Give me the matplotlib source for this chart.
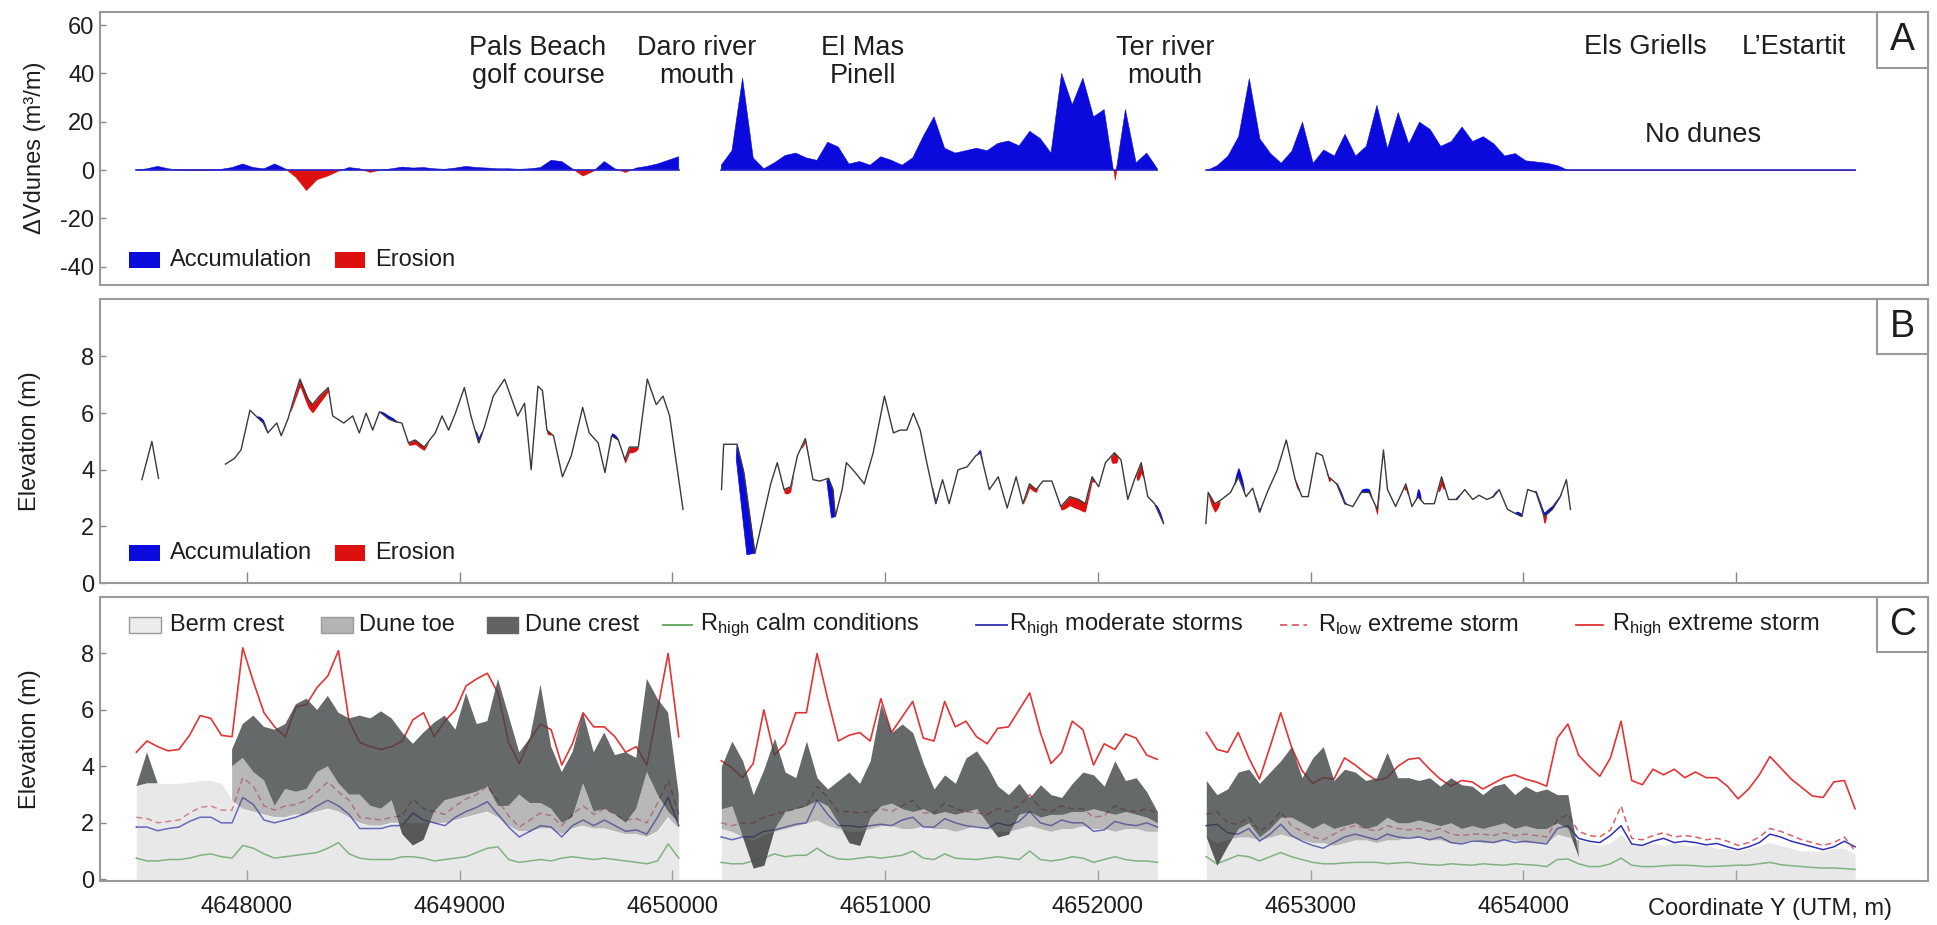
import numpy as np
import matplotlib
matplotlib.use('Agg')
import matplotlib.pyplot as plt
from matplotlib.patches import Rectangle
from matplotlib.lines import Line2D

plt.rcParams['font.family'] = ['Liberation Sans', 'DejaVu Sans']
plt.rcParams['mathtext.fontset'] = 'custom'
plt.rcParams['mathtext.rm'] = 'Liberation Sans'
plt.rcParams['mathtext.it'] = 'Liberation Sans:italic'
plt.rcParams['axes.unicode_minus'] = False

nan = np.nan
# ---------------- coordinate stations (UTM Y, m) ----------------
seg1_x = np.arange(4647480, 4650031, 50)
seg2_x = np.arange(4650230, 4652281, 50)
seg3_x = np.arange(4652510, 4655561, 50)

# ---------------- Panel A: dune volume change (m3/m) ----------------
dv1 = [0, 0.5, 1.5, 0.5, 0, 0, 0, 0, 0.3, 1,
       2.5, 1, 0.5, 2.5, 0.5, -3, -8.5, -4, -2.5, -0.5,
       1, 0.5, -1, 0, 0.5, 1.2, 0.8, 1, 0.5, 0.3,
       0.8, 1.5, 1, 0.8, 0.5, 0.5, 0.3, 0.5, 1, 4,
       3.5, 0.5, -2.5, -0.5, 3.5, 0.5, -1, 0.8, 1.5, 2.5,
       4, 5.5]
dv2 = [2, 8, 38, 5, 0.5, 3, 6, 7, 5, 4,
       11.5, 9.5, 2.5, 3.5, 2, 5.5, 4, 2, 5, 14,
       22, 9, 7, 8, 9, 8, 11, 12, 10, 16,
       13, 7, 40, 27, 38, 22, 25, -4, 25, 3,
       7, 0.5]
dv3 = [0, 2, 6, 14, 38, 13, 7, 3, 8, 20,
       3, 8.5, 6, 15, 6, 10, 27, 9, 24, 11,
       20, 17, 10, 12, 18, 12, 14, 11, 6, 7,
       4, 3.5, 3, 2, 0, 0, 0, 0, 0, 0,
       0, 0, 0, 0, 0, 0, 0, 0, 0, 0,
       0, 0, 0, 0, 0, 0, 0, 0, 0, 0,
       0, 0]

# ---------------- Panel B: dune crest elevation profile (m) ----------------
b0_x = [4647506, 4647553, 4647584]
b0_z = [3.65, 5.0, 3.7]
b1_x = [4647899, 4647941, 4647972, 4648014, 4648077, 4648098, 4648140, 4648161, 4648193, 4648224,
        4648249, 4648287, 4648308, 4648340, 4648382, 4648403, 4648455, 4648497, 4648528, 4648560,
        4648591, 4648623, 4648665, 4648696, 4648728, 4648759, 4648791, 4648833, 4648885, 4648917,
        4648948, 4648980, 4649022, 4649053, 4649089, 4649116, 4649158, 4649211, 4649273, 4649305,
        4649336, 4649368, 4649389, 4649410, 4649441, 4649483, 4649525, 4649578, 4649609, 4649651,
        4649683, 4649714, 4649746, 4649777, 4649798, 4649840, 4649882, 4649924, 4649956, 4649987,
        4650008, 4650050]
b1_z = [4.2, 4.4, 4.7, 6.1, 5.65, 5.3, 5.65, 5.2, 5.8, 6.6,
        7.2, 6.5, 6.3, 6.6, 6.9, 5.9, 5.65, 5.9, 5.3, 6.0,
        5.4, 6.05, 5.8, 5.7, 5.65, 4.95, 5.05, 4.8, 5.3, 5.9,
        5.4, 6.0, 6.9, 5.9, 4.95, 5.5, 6.6, 7.2, 5.9, 6.35,
        4.0, 6.95, 6.8, 5.4, 5.2, 3.75, 4.5, 6.2, 5.3, 4.95,
        3.9, 5.2, 5.05, 4.35, 4.8, 4.8, 7.2, 6.3, 6.6, 5.9,
        4.8, 2.6]
b2_x = [4650231, 4650241, 4650304, 4650336, 4650388, 4650420, 4650462, 4650493, 4650525, 4650556,
        4650588, 4650625, 4650661, 4650693, 4650734, 4650755, 4650766, 4650798, 4650818, 4650860,
        4650902, 4650944, 4650997, 4651039, 4651070, 4651102, 4651133, 4651165, 4651196, 4651238,
        4651270, 4651301, 4651343, 4651385, 4651427, 4651448, 4651490, 4651532, 4651574, 4651616,
        4651648, 4651679, 4651710, 4651742, 4651784, 4651826, 4651868, 4651910, 4651941, 4651973,
        4652004, 4652036, 4652078, 4652109, 4652141, 4652172, 4652204, 4652235, 4652267, 4652309]
b2_z = [3.3, 4.9, 4.9, 3.9, 1.05, 2.1, 3.5, 4.25, 3.3, 3.4,
        4.5, 5.1, 3.65, 3.6, 3.7, 3.3, 2.35, 3.3, 4.25, 3.9,
        3.5, 4.6, 6.6, 5.3, 5.4, 5.4, 6.0, 5.4, 4.25, 2.8,
        3.65, 2.8, 4.0, 4.1, 4.5, 4.6, 3.3, 3.75, 2.65, 3.75,
        2.8, 3.5, 3.3, 3.6, 3.6, 2.7, 3.05, 2.95, 2.8, 3.75,
        3.4, 4.25, 4.6, 4.35, 2.95, 3.65, 4.25, 3.05, 2.8, 2.1]
b3_x = [4652508, 4652519, 4652550, 4652582, 4652624, 4652661, 4652697, 4652728, 4652760, 4652802,
        4652844, 4652886, 4652928, 4652960, 4652989, 4653027, 4653056, 4653085, 4653123, 4653161,
        4653199, 4653238, 4653276, 4653314, 4653343, 4653362, 4653400, 4653448, 4653477, 4653505,
        4653534, 4653582, 4653616, 4653649, 4653687, 4653725, 4653763, 4653792, 4653830, 4653859,
        4653887, 4653926, 4653964, 4653993, 4654021, 4654060, 4654098, 4654136, 4654174, 4654203,
        4654222]
b3_z = [2.1, 3.2, 2.8, 2.95, 3.2, 3.75, 3.05, 3.35, 2.5, 3.3,
        4.0, 5.05, 3.65, 3.05, 3.05, 4.6, 4.5, 3.75, 3.5, 2.8,
        2.7, 3.2, 3.2, 2.6, 4.7, 3.3, 2.7, 3.5, 2.7, 3.05,
        2.8, 2.8, 3.75, 2.95, 2.95, 3.3, 2.95, 3.1, 2.95, 3.05,
        3.3, 2.6, 2.45, 2.35, 3.3, 3.2, 2.35, 2.6, 3.05, 3.65,
        2.6]
# earlier (pre-change) profile where the dune front shifted (two large accumulation wedges)
old_front1_x = [4650304, 4650336, 4650388, 4650350, 4650300]
old_front1_z = [4.9, 3.9, 1.05, 1.0, 4.4]
old_front2_x = [4650734, 4650755, 4650766, 4650748, 4650726]
old_front2_z = [3.7, 3.3, 2.35, 2.3, 3.6]
# (start, end, thickness m) of accumulation / erosion along the profile
acc_zones = [(4648046, 4648098, 0.12), (4648623, 4648707, 0.12), (4649074, 4649106, 0.2),
             (4649704, 4649746, 0.12),
             (4651220, 4651250, 0.12), (4651430, 4651460, 0.12), (4652270, 4652309, 0.15),
             (4652640, 4652690, 0.35), (4652740, 4652770, 0.1), (4653120, 4653170, 0.12),
             (4653230, 4653290, 0.15), (4653495, 4653520, 0.3), (4653680, 4653700, 0.1),
             (4653850, 4653880, 0.1), (4653960, 4654000, 0.12), (4654050, 4654180, 0.15)]
ero_zones = [(4648203, 4648392, 0.3), (4648749, 4648854, 0.15), (4649389, 4649431, 0.12),
             (4649767, 4649840, 0.2), (4650520, 4650570, 0.2), (4650605, 4650645, 0.12),
             (4651648, 4651720, 0.15), (4651820, 4651985, 0.35), (4652060, 4652095, 0.35),
             (4652180, 4652215, 0.4), (4652519, 4652575, 0.3), (4652925, 4652945, 0.15),
             (4653075, 4653095, 0.15), (4653300, 4653330, 0.2), (4653440, 4653460, 0.2),
             (4653600, 4653630, 0.3), (4654090, 4654110, 0.25)]

# ---------------- Panel C: morphology and run-up (m) ----------------
berm1 = [3.3, 3.4, 3.4, 3.4, 3.4, 3.45, 3.5, 3.5, 3.4, 2.8,
         2.5, 2.4, 2.3, 2.2, 2.2, 2.3, 2.3, 2.4, 2.5, 2.4,
         2.2, 2.0, 1.9, 1.9, 2.0, 2.0, 2.0, 2.0, 2.0, 2.0,
         2.1, 2.2, 2.3, 2.4, 2.2, 1.9, 1.7, 1.7, 1.8, 1.8,
         1.6, 1.8, 1.9, 1.8, 1.8, 1.7, 1.6, 1.6, 1.5, 1.7,
         2.2, 1.8]
toe1 = [3.3, 3.4, 3.4, nan, nan, nan, nan, nan, nan, 4.0,
        4.3, 3.8, 3.5, 2.6, 3.2, 3.1, 3.2, 3.8, 4.0, 3.4,
        3.0, 3.0, 2.6, 2.5, 2.8, 1.6, 1.2, 1.4, 2.4, 2.8,
        2.9, 3.0, 3.1, 3.3, 2.6, 2.6, 3.0, 2.7, 2.7, 2.5,
        2.0, 2.2, 3.4, 2.4, 2.5, 2.3, 2.0, 2.5, 3.8, 3.0,
        2.4, 2.0]
crest1 = [3.3, 4.5, 3.4, nan, nan, nan, nan, nan, nan, 4.6,
          5.5, 5.8, 5.4, 5.3, 5.5, 6.2, 6.4, 6.0, 6.5, 5.9,
          5.7, 5.8, 5.7, 5.95, 5.7, 5.2, 4.8, 5.2, 5.55, 5.8,
          5.3, 6.6, 5.5, 5.6, 7.1, 5.8, 4.5, 5.0, 6.9, 4.7,
          3.8, 4.5, 5.9, 4.5, 5.2, 4.4, 4.5, 4.3, 7.1, 6.4,
          5.9, 3.0]
rcalm1 = [0.75, 0.65, 0.65, 0.7, 0.7, 0.75, 0.85, 0.9, 0.8, 0.75,
          1.2, 1.1, 0.9, 0.75, 0.8, 0.85, 0.9, 0.95, 1.1, 1.3,
          0.9, 0.75, 0.7, 0.7, 0.7, 0.8, 0.8, 0.75, 0.65, 0.7,
          0.75, 0.8, 0.95, 1.1, 1.15, 0.7, 0.6, 0.65, 0.7, 0.65,
          0.75, 0.8, 0.75, 0.7, 0.75, 0.7, 0.65, 0.6, 0.55, 0.65,
          1.25, 0.75]
rmod1 = [1.85, 1.85, 1.72, 1.8, 1.85, 2.05, 2.2, 2.2, 2.0, 2.0,
         2.9, 2.65, 2.1, 2.0, 2.1, 2.2, 2.35, 2.6, 2.8, 2.6,
         2.3, 1.8, 1.8, 1.8, 1.9, 1.9, 2.35, 2.1, 2.0, 1.9,
         2.2, 2.4, 2.55, 2.75, 2.3, 1.85, 1.5, 1.7, 1.9, 1.85,
         1.5, 1.9, 2.1, 1.9, 2.1, 1.9, 1.7, 1.75, 1.6, 2.2,
         2.9, 1.9]
rlow1 = [2.2, 2.15, 2.0, 2.05, 2.1, 2.35, 2.55, 2.6, 2.45, 2.45,
         3.6, 3.3, 2.6, 2.45, 2.6, 2.65, 2.8, 3.1, 3.45, 3.1,
         2.8, 2.2, 2.15, 2.1, 2.2, 2.25, 2.85, 2.5, 2.4, 2.3,
         2.6, 2.85, 3.0, 3.3, 2.8, 2.25, 1.85, 2.1, 2.35, 2.25,
         1.9, 2.3, 2.6, 2.3, 2.5, 2.3, 2.1, 2.15, 2.0, 2.7,
         3.5, 2.3]
rhigh1 = [4.5, 4.9, 4.7, 4.55, 4.6, 5.1, 5.8, 5.7, 5.1, 5.05,
          8.2, 7.0, 5.9, 5.4, 5.05, 6.1, 6.2, 6.8, 7.2, 8.1,
          5.6, 4.85, 4.7, 4.6, 4.7, 4.9, 5.65, 5.9, 5.05, 5.6,
          6.0, 6.85, 7.1, 7.3, 6.6, 4.85, 4.1, 4.95, 5.5, 5.3,
          4.05, 4.8, 5.9, 5.4, 5.4, 5.05, 4.5, 4.7, 4.05, 6.0,
          8.0, 5.05]

berm2 = [1.8, 1.7, 1.5, 1.4, 1.6, 1.7, 1.8, 1.9, 2.0, 2.1,
         1.9, 1.8, 1.7, 1.7, 1.8, 1.9, 1.9, 1.8, 1.8, 1.9,
         1.8, 1.8, 1.7, 1.8, 1.9, 1.8, 1.7, 1.7, 1.8, 1.9,
         1.8, 1.7, 1.8, 1.8, 1.9, 1.8, 1.8, 1.7, 1.8, 1.8,
         1.7, 1.7]
toe2 = [2.5, 2.6, 1.5, 0.4, 0.5, 1.8, 2.4, 2.5, 2.6, 2.8,
        2.6, 2.0, 1.3, 1.2, 2.2, 2.6, 2.7, 2.5, 2.4, 2.5,
        2.3, 2.4, 2.3, 2.4, 2.5, 2.0, 1.5, 1.6, 2.3, 2.4,
        2.2, 2.3, 2.3, 2.4, 2.4, 2.5, 2.4, 2.3, 2.4, 2.3,
        2.2, 2.0]
crest2 = [4.0, 4.9, 4.2, 3.0, 3.9, 5.0, 3.8, 3.6, 4.9, 3.6,
          3.2, 3.5, 3.8, 3.4, 4.2, 6.2, 5.2, 5.5, 5.2, 4.1,
          3.2, 3.7, 3.4, 4.3, 4.55, 4.0, 3.3, 3.0, 3.4, 2.9,
          3.35, 3.0, 2.9, 3.4, 3.8, 3.7, 3.3, 4.2, 3.5, 3.6,
          3.1, 2.4]
rcalm2 = [0.6, 0.55, 0.55, 0.65, 0.75, 0.9, 0.8, 0.85, 0.85, 1.1,
          0.85, 0.72, 0.7, 0.75, 0.8, 0.75, 0.8, 0.85, 1.0, 0.75,
          0.7, 0.9, 0.75, 0.72, 0.7, 0.75, 0.8, 0.75, 0.7, 1.0,
          0.7, 0.65, 0.7, 0.8, 0.75, 0.6, 0.7, 0.8, 0.7, 0.65,
          0.65, 0.6]
rmod2 = [1.5, 1.4, 1.5, 1.5, 1.7, 1.75, 1.85, 1.95, 2.0, 2.8,
         2.3, 1.9, 1.9, 1.85, 1.9, 1.95, 1.9, 2.1, 2.2, 1.85,
         1.85, 2.15, 2.0, 1.9, 1.85, 1.8, 2.0, 1.9, 2.05, 2.4,
         2.0, 1.9, 2.1, 2.0, 2.0, 1.7, 1.75, 2.05, 1.95, 1.9,
         2.0, 1.85]
rlow2 = [2.0, 1.9, 2.0, 2.0, 2.2, 2.3, 2.4, 2.5, 2.6, 3.3,
         2.9, 2.4, 2.4, 2.35, 2.4, 2.5, 2.4, 2.6, 2.8, 2.35,
         2.35, 2.7, 2.5, 2.4, 2.35, 2.3, 2.5, 2.4, 2.6, 3.0,
         2.5, 2.4, 2.6, 2.5, 2.5, 2.2, 2.25, 2.6, 2.45, 2.4,
         2.5, 2.35]
rhigh2 = [4.2, 3.95, 3.6, 4.1, 6.0, 4.4, 4.8, 5.9, 5.9, 8.0,
          6.4, 4.9, 5.1, 5.2, 4.9, 6.4, 5.2, 5.75, 6.3, 5.0,
          4.9, 6.3, 5.4, 5.6, 5.05, 4.8, 5.35, 5.4, 6.0, 6.6,
          5.2, 4.1, 4.5, 5.6, 5.3, 4.05, 4.8, 4.6, 5.15, 5.0,
          4.4, 4.25]

berm3 = [1.5, 1.3, 1.4, 1.5, 1.5, 1.4, 1.5, 1.6, 1.5, 1.4,
         1.3, 1.3, 1.2, 1.3, 1.4, 1.4, 1.3, 1.4, 1.4, 1.5,
         1.5, 1.4, 1.4, 1.3, 1.3, 1.4, 1.3, 1.3, 1.4, 1.4,
         1.3, 1.3, 1.3, 1.6, 1.5, 1.4, 1.3, 1.2, 1.3, 1.6,
         1.2, 1.2, 1.3, 1.2, 1.3, 1.2, 1.2, 1.2, 1.1, 1.1,
         1.0, 1.1, 1.2, 1.3, 1.2, 1.1, 1.0, 1.0, 1.0, 1.1,
         1.1, 0.9]
toe3 = [1.5, 0.5, 1.2, 1.8, 2.0, 1.5, 1.8, 2.2, 2.2, 2.0,
        1.8, 2.0, 1.8, 1.9, 2.0, 1.8, 1.9, 2.2, 2.0, 2.0,
        2.1, 2.0, 1.9, 2.0, 1.8, 1.9, 1.8, 1.9, 2.0, 1.8,
        1.9, 1.8, 1.8, 2.0, 1.8, 0.8, nan, nan, nan, nan,
        nan, nan, nan, nan, nan, nan, nan, nan, nan, nan,
        nan, nan, nan, nan, nan, nan, nan, nan, nan, nan,
        nan, nan]
crest3 = [3.5, 3.0, 3.2, 3.8, 3.9, 3.4, 3.8, 4.2, 4.7, 3.6,
          4.3, 4.7, 3.5, 3.9, 3.8, 3.5, 3.6, 4.5, 3.6, 3.6,
          3.5, 3.6, 3.3, 3.6, 3.35, 3.3, 3.0, 3.3, 3.4, 3.0,
          3.3, 3.1, 3.2, 3.0, 3.0, 0.8, nan, nan, nan, nan,
          nan, nan, nan, nan, nan, nan, nan, nan, nan, nan,
          nan, nan, nan, nan, nan, nan, nan, nan, nan, nan,
          nan, nan]
rcalm3 = [0.8, 0.55, 0.7, 0.85, 0.8, 0.65, 0.8, 0.95, 0.8, 0.7,
          0.6, 0.55, 0.55, 0.58, 0.6, 0.6, 0.6, 0.55, 0.58, 0.6,
          0.55, 0.52, 0.5, 0.55, 0.52, 0.5, 0.55, 0.52, 0.5, 0.55,
          0.52, 0.5, 0.45, 0.7, 0.72, 0.55, 0.45, 0.45, 0.55, 0.75,
          0.5, 0.45, 0.45, 0.48, 0.5, 0.5, 0.48, 0.45, 0.46, 0.48,
          0.5, 0.5, 0.55, 0.6, 0.52, 0.48, 0.45, 0.42, 0.4, 0.4,
          0.38, 0.35]
rmod3 = [1.9, 1.95, 1.65, 1.6, 1.8, 1.35, 1.6, 1.95, 1.55, 1.35,
         1.2, 1.1, 1.3, 1.5, 1.6, 1.5, 1.4, 1.6, 1.5, 1.45,
         1.5, 1.4, 1.5, 1.3, 1.25, 1.35, 1.35, 1.3, 1.4, 1.3,
         1.35, 1.3, 1.25, 1.8, 1.9, 1.45, 1.35, 1.3, 1.55, 1.9,
         1.25, 1.2, 1.35, 1.45, 1.3, 1.35, 1.3, 1.22, 1.27, 1.15,
         1.05, 1.15, 1.3, 1.6, 1.5, 1.35, 1.25, 1.15, 1.05, 1.15,
         1.35, 1.15]
rlow3 = [2.3, 2.4, 2.0, 1.95, 2.2, 1.7, 1.95, 2.4, 1.9, 1.7,
         1.5, 1.4, 1.6, 1.8, 1.9, 1.8, 1.7, 1.9, 1.8, 1.75,
         1.8, 1.7, 1.8, 1.6, 1.55, 1.6, 1.6, 1.55, 1.65, 1.55,
         1.6, 1.55, 1.5, 2.1, 2.3, 1.7, 1.55, 1.5, 1.75, 2.6,
         1.45, 1.4, 1.55, 1.65, 1.5, 1.55, 1.5, 1.4, 1.45, 1.35,
         1.2, 1.3, 1.5, 1.8, 1.7, 1.55, 1.4, 1.3, 1.2, 1.3,
         1.5, 1.0]
rhigh3 = [5.2, 4.6, 4.5, 5.2, 4.3, 3.55, 4.7, 5.9, 4.7, 3.85,
          3.4, 3.6, 3.55, 4.3, 4.05, 3.75, 3.5, 3.6, 4.0, 4.25,
          4.3, 3.9, 3.55, 3.3, 3.5, 3.45, 3.2, 3.4, 3.6, 3.7,
          3.55, 3.45, 3.3, 5.0, 5.5, 4.4, 4.0, 3.65, 4.3, 5.6,
          3.5, 3.35, 3.9, 3.7, 3.9, 3.6, 3.8, 3.6, 3.6, 3.3,
          2.85, 3.2, 3.7, 4.35, 3.95, 3.55, 3.25, 2.95, 2.9, 3.45,
          3.5, 2.5]

x_ticks = [4648000, 4649000, 4650000, 4651000, 4652000, 4653000, 4654000, 4655000]
x_ticklabels = ['4648000', '4649000', '4650000', '4651000', '4652000', '4653000', '4654000', '']

sites = [('Pals Beach\ngolf course', 4649368, 44.7), ('Daro river\nmouth', 4650116, 44.7),
         ('El Mas\nPinell', 4650896, 44.7), ('Ter river\nmouth', 4652316, 44.7),
         ('Els Griells', 4654573, 50.9), ('L\u2019Estartit', 4655273, 50.9),
         ('No dunes', 4654845, 14.5)]

# ---------------- styling ----------------
W, H = 1937, 925
TXT = '#1e1e1e'
SPINE = '#9a9a9a'
BLUE = '#0a0adc'
RED = '#dd1010'
XLIM = (4647309, 4655903)

fig = plt.figure(figsize=(W / 100, H / 100), dpi=100)


def ax_rect(top, bottom):
    return [100 / W, 1 - bottom / H, 1828 / W, (bottom - top) / H]


axA = fig.add_axes(ax_rect(12, 285))
axB = fig.add_axes(ax_rect(299, 583))
axC = fig.add_axes(ax_rect(597, 881))

for ax in (axA, axB, axC):
    ax.set_xlim(*XLIM)
    for s in ax.spines.values():
        s.set_color(SPINE)
        s.set_linewidth(1.5)
    ax.tick_params(axis='y', direction='in', length=4, width=1, color='#888888',
                   labelsize=17, labelcolor=TXT, pad=4)
    ax.tick_params(axis='x', direction='in', length=8, width=1, color='#888888',
                   labelsize=17, labelcolor=TXT, pad=11)

# ---- Panel A ----
for sx, sv in ((seg1_x, dv1), (seg2_x, dv2), (seg3_x, dv3)):
    sv = np.asarray(sv, float)
    axA.fill_between(sx, 0, sv, where=sv >= 0, interpolate=True, color=BLUE, lw=0.4, ec=BLUE)
    axA.fill_between(sx, 0, sv, where=sv <= 0, interpolate=True, color=RED, lw=0.4, ec=RED)
    axA.plot(sx[[0, -1]], [0, 0], color='#2828c8', lw=1.2)
axA.set_ylim(-47.6, 65.4)
axA.set_yticks([-40, -20, 0, 20, 40, 60])
axA.set_xticks([])
for label, lx, ly in sites:
    axA.text(lx, ly, label, ha='center', va='center', fontsize=19.5, color=TXT, linespacing=1.1)

# ---- Panel B ----
b_segments = [(np.array(b0_x, float), np.array(b0_z, float)),
              (np.array(b1_x, float), np.array(b1_z, float)),
              (np.array(b2_x, float), np.array(b2_z, float)),
              (np.array(b3_x, float), np.array(b3_z, float))]


def zone_fill(ax, zones, sign, color):
    for x0, x1, t in zones:
        for sx, sz in b_segments:
            if sx[0] <= x0 and x1 <= sx[-1]:
                xx = np.linspace(x0, x1, 40)
                zz = np.interp(xx, sx, sz)
                tt = t * np.sqrt(np.sin(np.linspace(0, np.pi, 40)))
                if sign > 0:
                    ax.fill_between(xx, zz, zz + tt, color=color, lw=0, zorder=2)
                else:
                    ax.fill_between(xx, zz - tt, zz, color=color, lw=0, zorder=2)
                break


zone_fill(axB, acc_zones, 1, BLUE)
zone_fill(axB, ero_zones, -1, RED)
axB.fill(old_front1_x, old_front1_z, color=BLUE, lw=0.5, ec=BLUE, zorder=2)
axB.fill(old_front2_x, old_front2_z, color=BLUE, lw=0.5, ec=BLUE, zorder=2)
for sx, sz in b_segments:
    axB.plot(sx, sz, color='#3a3a3a', lw=1.0, zorder=3)
axB.set_ylim(0, 10.03)
axB.set_yticks([0, 2, 4, 6, 8])
axB.set_xticks(x_ticks)
axB.set_xticklabels([])

# ---- Panel C ----
C_GREEN = '#58a858'
C_BLUE = '#3232b4'
C_PINK = '#d8606c'
C_RED = '#e23434'
segsC = [(seg1_x, berm1, toe1, crest1, rcalm1, rmod1, rlow1, rhigh1),
         (seg2_x, berm2, toe2, crest2, rcalm2, rmod2, rlow2, rhigh2),
         (seg3_x, berm3, toe3, crest3, rcalm3, rmod3, rlow3, rhigh3)]
for sx, be, to, cr, rc, rm, rl, rh in segsC:
    be, to, cr = (np.asarray(a, float) for a in (be, to, cr))
    axC.plot(sx, rc, color=C_GREEN, lw=1.1, zorder=2)
    axC.plot(sx, rm, color=C_BLUE, lw=1.1, zorder=2)
    axC.plot(sx, rl, color=C_PINK, lw=1.1, ls=(0, (4, 2.5)), zorder=2)
    axC.plot(sx, rh, color=C_RED, lw=1.2, zorder=2)
    axC.fill_between(sx, 0, be, color='#c4c4c4', alpha=0.38, lw=0, zorder=3)
    axC.fill_between(sx, be, to, color='#868686', alpha=0.58, lw=0, zorder=3)
    axC.fill_between(sx, to, cr, color='#404443', alpha=0.8, lw=0, zorder=3)
axC.set_ylim(-0.06, 10.0)
axC.set_yticks([0, 2, 4, 6, 8])
axC.set_xticks(x_ticks)
axC.set_xticklabels(x_ticklabels)

# ---- panel letters ----
for ax, letter, hfrac in ((axA, 'A', 0.205), (axB, 'B', 0.194), (axC, 'C', 0.194)):
    ax.add_patch(Rectangle((0.9721, 1 - hfrac), 0.0279, hfrac, transform=ax.transAxes,
                           facecolor='white', edgecolor=SPINE, lw=1.5, zorder=6, clip_on=False))
    ax.text(0.9861, 1 - hfrac / 2, letter, transform=ax.transAxes, ha='center', va='center',
            fontsize=27, color=TXT, zorder=7)


# ---- figure-level helpers (pixel layout) ----
def fig_rect(x, y, w, h, **kw):
    fig.add_artist(Rectangle((x / W, 1 - (y + h) / H), w / W, h / H,
                             transform=fig.transFigure, **kw))


def fig_line(x0, x1, y, **kw):
    fig.add_artist(Line2D([x0 / W, x1 / W], [1 - y / H, 1 - y / H],
                          transform=fig.transFigure, **kw))


def fig_text(x, y, s, **kw):
    kw.setdefault('color', TXT)
    fig.text(x / W, 1 - y / H, s, **kw)


# legends A and B
for yc in (260, 553):
    fig_rect(129, yc - 8, 31, 16, facecolor=BLUE, edgecolor='none')
    fig_text(170, yc, 'Accumulation', ha='left', va='center', fontsize=17)
    fig_rect(335, yc - 8, 30, 16, facecolor=RED, edgecolor='none')
    fig_text(375, yc, 'Erosion', ha='left', va='center', fontsize=17)

# legend C
yc = 625
fig_rect(129, yc - 8, 32, 16, facecolor='#ececec', edgecolor='#9a9a9a', lw=1)
fig_text(170, yc, 'Berm crest', ha='left', va='center', fontsize=17)
fig_rect(321, yc - 8, 32, 16, facecolor='#b4b4b4', edgecolor='#9a9a9a', lw=1)
fig_text(359, yc, 'Dune toe', ha='left', va='center', fontsize=17)
fig_rect(487, yc - 8, 31, 16, facecolor='#626463', edgecolor='#626463', lw=1)
fig_text(525, yc, 'Dune crest', ha='left', va='center', fontsize=17)
fig_line(663, 692, yc, color=C_GREEN, lw=1.3)
fig_text(700, yc, r'R$_{\mathrm{high}}$ calm conditions', ha='left', va='center', fontsize=17)
fig_line(976, 1007, yc, color=C_BLUE, lw=1.3)
fig_text(1009, yc, r'R$_{\mathrm{high}}$ moderate storms', ha='left', va='center', fontsize=17)
fig_line(1280, 1307, yc, color=C_PINK, lw=1.3, ls=(0, (4, 2.5)))
fig_text(1318, yc, r'R$_{\mathrm{low}}$ extreme storm', ha='left', va='center', fontsize=17)
fig_line(1576, 1603, yc, color=C_RED, lw=1.3)
fig_text(1612, yc, r'R$_{\mathrm{high}}$ extreme storm', ha='left', va='center', fontsize=17)

# axis titles
fig_text(35, 148, 'ΔVdunes (m³/m)', rotation=90, ha='center', va='center', fontsize=17)
fig_text(30, 441, 'Elevation (m)', rotation=90, ha='center', va='center', fontsize=17)
fig_text(30, 739, 'Elevation (m)', rotation=90, ha='center', va='center', fontsize=17)
fig_text(1770, 909, 'Coordinate Y (UTM, m)', ha='center', va='center', fontsize=17)

fig.savefig('out.png', dpi=100)
